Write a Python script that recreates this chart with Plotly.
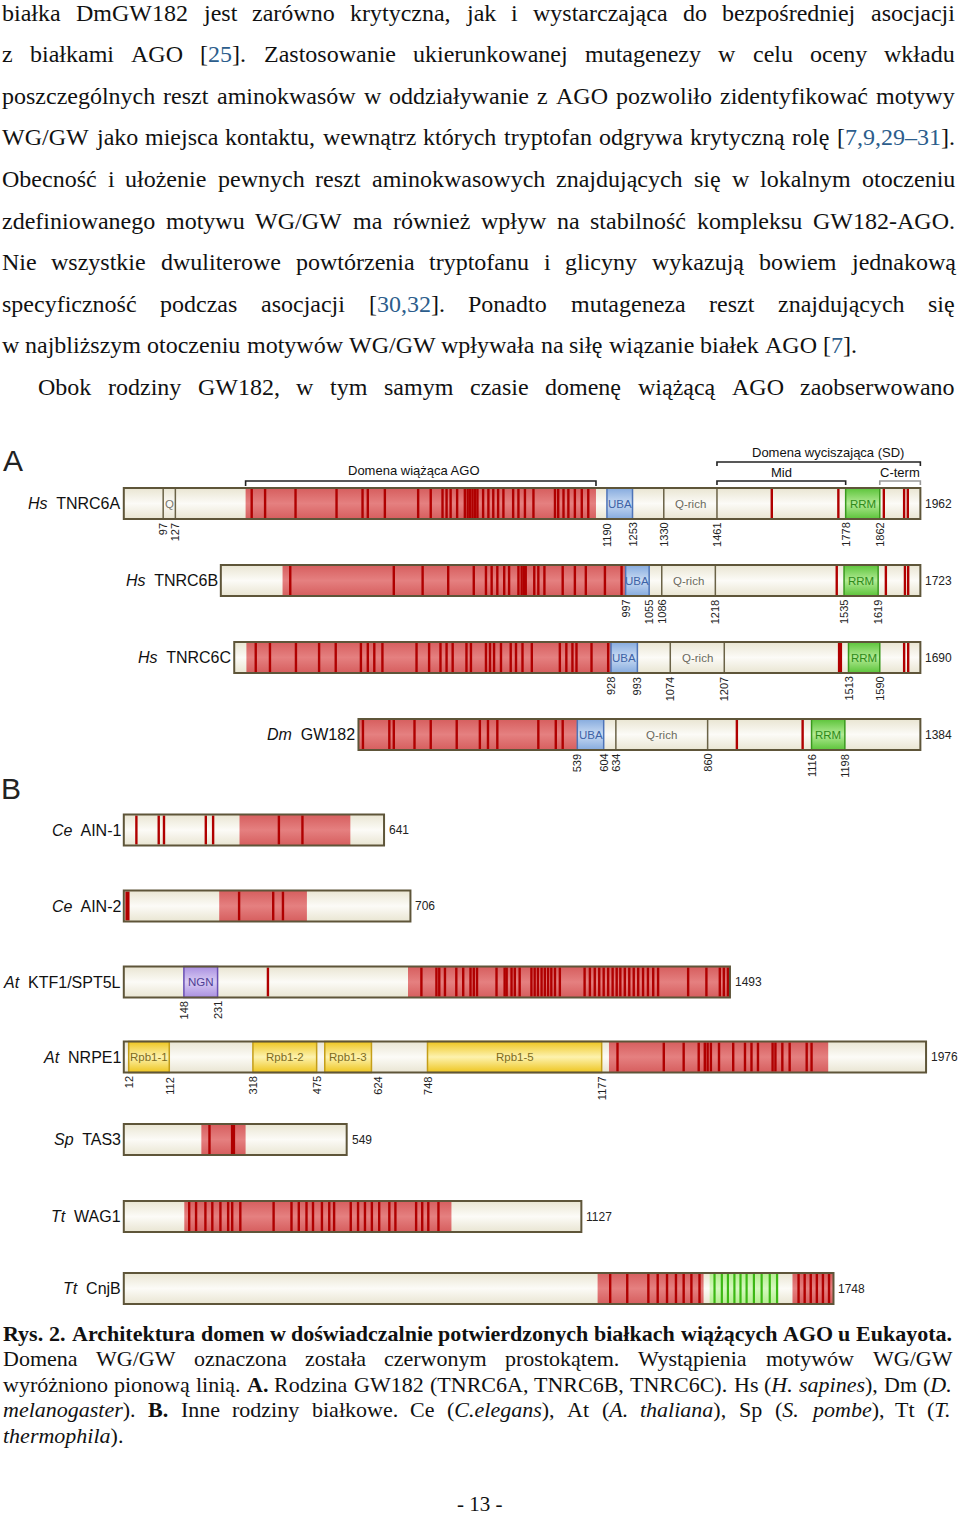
import plotly.graph_objects as go

# ======================= DATA =======================
PROTEINS = ["TNRC6A", "TNRC6B", "TNRC6C", "GW182", "AIN-1", "AIN-2",
            "KTF1/SPT5L", "NRPE1", "TAS3", "WAG1", "CnjB"]
SPECIES = ["Hs", "Hs", "Hs", "Dm", "Ce", "Ce", "At", "At", "Sp", "Tt", "Tt"]
LENGTHS = [1962, 1723, 1690, 1384, 641, 706, 1493, 1976, 549, 1127, 1748]
FAMILY = ["A", "A", "A", "A", "B", "B", "B", "B", "B", "B", "B"]

# WG/GW (AGO-binding) regions, aa
WG_TNRC6A = [(300, 1163)]
WG_TNRC6B = [(152, 997)]
WG_TNRC6C = [(30, 928)]
WG_GW182 = [(0, 539)]
WG_AIN1 = [(285, 558)]
WG_AIN2 = [(235, 451)]
WG_KTF1 = [(700, 1493)]
WG_NRPE1 = [(1195, 1735)]
WG_TAS3 = [(191, 300)]
WG_WAG1 = [(149, 807)]
WG_CNJB = [(1167, 1428), (1647, 1748)]
GREEN_CNJB = [(1443, 1612)]

# WG/GW motif occurrences, aa
M_TNRC6A = [315, 348, 423, 524, 588, 601, 643, 725, 756, 785, 795, 805, 821, 840, 847, 853,
            859, 865, 871, 885, 898, 910, 922, 935, 959, 972, 988, 1009, 1062, 1070, 1083,
            1095, 1111, 1128, 1144, 1596, 1760, 1872, 1922, 1931]
M_TNRC6B = [171, 426, 497, 560, 623, 653, 667, 681, 698, 710, 733, 741, 747, 751, 772, 782,
            797, 842, 872, 899, 946, 987, 1517, 1638, 1685, 1693]
M_TNRC6C = [53, 88, 152, 209, 250, 312, 329, 345, 365, 449, 480, 508, 523, 538, 572, 583,
            620, 630, 640, 657, 681, 694, 710, 733, 802, 818, 833, 843, 880, 921, 1650, 1660]
M_GW182 = [11, 76, 87, 138, 178, 242, 299, 319, 342, 443, 486, 503, 932, 1094]
M_AIN1 = [31, 86, 99, 202, 220, 382, 440]
M_AIN2 = [284, 368, 392]
M_KTF1 = [355, 733, 770, 777, 791, 819, 836, 854, 862, 870, 918, 938, 943, 955, 963, 975,
          1004, 1012, 1020, 1029, 1037, 1045, 1053, 1062, 1074, 1135, 1148, 1160, 1171,
          1182, 1193, 1204, 1214, 1223, 1234, 1245, 1256, 1267, 1279, 1291, 1304, 1316,
          1390, 1435, 1468, 1478, 1488]
M_NRPE1 = [1216, 1330, 1379, 1416, 1431, 1438, 1446, 1466, 1501, 1530, 1546, 1562, 1598,
           1605, 1622, 1640, 1682, 1694]
M_TAS3 = [211]
M_WAG1 = [161, 178, 201, 218, 238, 257, 267, 287, 369, 413, 431, 450, 466, 488, 506, 518,
          559, 577, 594, 611, 629, 654, 669, 720, 735, 750, 775]
M_CNJB = [1198, 1240, 1292, 1315, 1338, 1360, 1379, 1398, 1418, 1662, 1677, 1692, 1707,
          1722, 1737]
M_CNJB_GREEN = [1455, 1473, 1488, 1504, 1519, 1534, 1552, 1571, 1591, 1609]
# wide motif marks
MW_TNRC6C = [1492]
MW_AIN2 = [9]
MW_TAS3 = [269]

# Other domains (name, start, end)
D_TNRC6A = [("Q", 97, 127), ("UBA", 1190, 1253), ("Q-rich", 1330, 1461), ("RRM", 1778, 1862)]
D_TNRC6B = [("UBA", 997, 1055), ("Q-rich", 1086, 1218), ("RRM", 1535, 1619)]
D_TNRC6C = [("UBA", 928, 993), ("Q-rich", 1074, 1207), ("RRM", 1513, 1590)]
D_GW182 = [("UBA", 539, 604), ("Q-rich", 634, 860), ("RRM", 1116, 1198)]
D_KTF1 = [("NGN", 148, 231)]
D_NRPE1 = [("Rpb1-1", 12, 112), ("Rpb1-2", 318, 475), ("Rpb1-3", 495, 610), ("Rpb1-5", 748, 1177)]

# position labels under bars
T_TNRC6A = [97, 127, 1190, 1253, 1330, 1461, 1778, 1862]
T_TNRC6B = [997, 1055, 1086, 1218, 1535, 1619]
T_TNRC6C = [928, 993, 1074, 1207, 1513, 1590]
T_GW182 = [539, 604, 634, 860, 1116, 1198]
T_KTF1 = [148, 231]
T_NRPE1 = [12, 112, 318, 475, 624, 748, 1177]

# region brackets above TNRC6A (label, start, end)
BRACKET_AGO = ("Domena wiążąca AGO", 300, 1163)
BRACKET_SD = ("Domena wyciszająca (SD)", 1461, 1962)
BRACKET_MID = ("Mid", 1461, 1778)
BRACKET_CTERM = ("C-term", 1862, 1962)

WG = [WG_TNRC6A, WG_TNRC6B, WG_TNRC6C, WG_GW182, WG_AIN1, WG_AIN2, WG_KTF1, WG_NRPE1,
      WG_TAS3, WG_WAG1, WG_CNJB]
MOT = [M_TNRC6A, M_TNRC6B, M_TNRC6C, M_GW182, M_AIN1, M_AIN2, M_KTF1, M_NRPE1, M_TAS3,
       M_WAG1, M_CNJB]
MOTW = [[], [], MW_TNRC6C, [], [], MW_AIN2, [], [], MW_TAS3, [], []]
DOM = [D_TNRC6A, D_TNRC6B, D_TNRC6C, D_GW182, [], [], D_KTF1, D_NRPE1, [], [], []]
TICKS = [T_TNRC6A, T_TNRC6B, T_TNRC6C, T_GW182, [], [], T_KTF1, T_NRPE1, [], [], []]

# Page text
BODY_LINES = [
    "białka DmGW182 jest zarówno krytyczna, jak i wystarczająca do bezpośredniej asocjacji",
    "z białkami AGO [{25}]. Zastosowanie ukierunkowanej mutagenezy w celu oceny wkładu",
    "poszczególnych reszt aminokwasów w oddziaływanie z AGO pozwoliło zidentyfikować motywy",
    "WG/GW jako miejsca kontaktu, wewnątrz których tryptofan odgrywa krytyczną rolę [{7,9,29–31}].",
    "Obecność i ułożenie pewnych reszt aminokwasowych znajdujących się w lokalnym otoczeniu",
    "zdefiniowanego motywu WG/GW ma również wpływ na stabilność kompleksu GW182-AGO.",
    "Nie wszystkie dwuliterowe powtórzenia tryptofanu i glicyny wykazują bowiem jednakową",
    "specyficzność podczas asocjacji [{30,32}]. Ponadto mutageneza reszt znajdujących się",
    "w najbliższym otoczeniu motywów WG/GW wpływała na siłę wiązanie białek AGO [{7}].",
    "Obok rodziny GW182, w tym samym czasie domenę wiążącą AGO zaobserwowano",
]
BODY_JUSTIFY = [True, True, True, True, True, True, True, True, False, True]
CAPTION_LINES = [
    "**Rys. 2. Architektura domen w doświadczalnie potwierdzonych białkach wiążących AGO u Eukayota.**",
    "Domena WG/GW oznaczona została czerwonym prostokątem. Wystąpienia motywów WG/GW",
    "wyróżniono pionową linią. **A.** Rodzina GW182 (TNRC6A, TNRC6B, TNRC6C). Hs (*H. sapines*), Dm (*D.*",
    "*melanogaster*). **B.** Inne rodziny białkowe. Ce (*C.elegans*), At (*A. thaliana*), Sp (*S. pombe*), Tt (*T.*",
    "*thermophila*).",
]
CAPTION_JUSTIFY = [True, True, True, True, False]
PAGE_NUMBER = "- 13 -"

# ======================= LAYOUT / STYLE =======================
W, H = 960, 1517
PX0, SCALE = 123.8, 0.406          # pixel of aa 0 and px per aa
XR = [(0 - PX0) / SCALE, (W - PX0) / SCALE]
ROW_Y = [503.5, 580.5, 657.5, 734.5, 830, 906, 982, 1057, 1139.5, 1216.5, 1288.5]
BAR_H = 31
SANS = "Liberation Sans, Arial, sans-serif"
SERIF = "Liberation Serif, Times New Roman, serif"

GRAD = {
    "cream": ('#e9e5d2', '#fcfbf7'),
    "red": ('#d65e5e', '#e58080'),
    "UBA": ('#86abde', '#c9dbf3'),
    "RRM": ('#5cc43a', '#b2ea94'),
    "NGN": ('#a98fe0', '#d9ccf4'),
    "Rpb1": ('#eec51e', '#fdf2ae'),
    "green": ('#b4ee8e', '#d6f8c0'),
}
BORDER = {"UBA": '#4e74b8', "RRM": '#3a9a1e', "NGN": '#6a4fb5', "Rpb1": '#c49e18',
          "Q": '#6b6347', "Q-rich": '#6b6347'}
TXT = {"UBA": '#3d62a6', "RRM": '#2e8a1a', "NGN": '#4e3e96', "Rpb1": '#7d6a1c',
       "Q": '#7a7a70', "Q-rich": '#6a6a5e'}
MOTIF_C = '#b00000'
BAR_BORDER = '#5e5539'


def dkey(name):
    return "Rpb1" if name.startswith("Rpb1") else name


fig = go.Figure()
shapes = []
ann = []


def grad_rects(rects, yc, key):
    if not rects:
        return
    e, m = GRAD[key]
    yt, yb = yc - BAR_H / 2, yc + BAR_H / 2
    for a, b in rects:
        fig.add_trace(go.Scatter(
            x=[a, b, b, a, a], y=[yt, yt, yb, yb, yt], mode='lines', line=dict(width=0),
            fill='toself',
            fillgradient=dict(type='vertical',
                              colorscale=[[0, e], [0.5, m], [1, e]]),
            hoverinfo='skip', showlegend=False))


def motif_lines(xlist, yc, color, width):
    if not xlist:
        return
    yt, yb = yc - BAR_H / 2 + 1, yc + BAR_H / 2 - 1
    xs, ys = [], []
    for x in xlist:
        xs += [x, x, None]
        ys += [yt, yb, None]
    fig.add_trace(go.Scatter(x=xs, y=ys, mode='lines',
                             line=dict(color=color, width=width),
                             hoverinfo='skip', showlegend=False))


for i, name in enumerate(PROTEINS):
    L = LENGTHS[i]
    off = (LENGTHS[0] - L) if FAMILY[i] == "A" else 0
    yc = ROW_Y[i]
    yt, yb = yc - BAR_H / 2, yc + BAR_H / 2
    grad_rects([(off, off + L)], yc, "cream")
    grad_rects([(off + a, off + b) for a, b in WG[i]], yc, "red")
    for dname, a, b in DOM[i]:
        k = dkey(dname)
        if k in GRAD:
            grad_rects([(off + a, off + b)], yc, k)
        shapes.append(dict(type='rect', xref='x', yref='y', x0=off + a, x1=off + b,
                           y0=yt, y1=yb, line=dict(color=BORDER[k], width=1.5),
                           fillcolor='rgba(0,0,0,0)', layer='above'))
        ann.append(dict(x=off + (a + b) / 2, y=yc, xref='x', yref='y', text=dname,
                        showarrow=False, font=dict(family=SANS, size=11.5, color=TXT[k]),
                        xanchor='center', yanchor='middle'))
    if name == "CnjB":
        grad_rects([(off + a, off + b) for a, b in GREEN_CNJB], yc, "green")
        motif_lines([off + x for x in M_CNJB_GREEN], yc, '#3cb814', 2.2)
    motif_lines([off + x for x in MOT[i]], yc, MOTIF_C, 2.4)
    motif_lines([off + x for x in MOTW[i]], yc, MOTIF_C, 4.2)
    shapes.append(dict(type='rect', xref='x', yref='y', x0=off, x1=off + L, y0=yt, y1=yb,
                       line=dict(color=BAR_BORDER, width=2), fillcolor='rgba(0,0,0,0)',
                       layer='above'))
    ann.append(dict(x=off, y=yc, xref='x', yref='y', xanchor='right', yanchor='middle',
                    xshift=-1, text=f"<i>{SPECIES[i]}</i>\u00a0 {name}", showarrow=False,
                    font=dict(family=SANS, size=16, color='#111')))
    ann.append(dict(x=off + L, y=yc, xref='x', yref='y', xanchor='left', yanchor='middle',
                    xshift=3, text=str(L), showarrow=False,
                    font=dict(family=SANS, size=12, color='#222')))
    for t in TICKS[i]:
        ann.append(dict(x=off + t, y=yb + 2, xref='x', yref='y', xanchor='center',
                        yanchor='top', textangle=-90, text=str(t), showarrow=False,
                        font=dict(family=SANS, size=11, color='#222')))

for (lab, a, b), ybr, tick, col, ty, dx in [
        (BRACKET_AGO, 481, 5, '#222', 470, -7),
        (BRACKET_SD, 462, 4, '#222', 452, 9),
        (BRACKET_MID, 481, 4, '#222', 472, 0),
        (BRACKET_CTERM, 481, 4, '#999', 472, 0)]:
    shapes.append(dict(type='path', xref='x', yref='y',
                       path=f"M {a},{ybr + tick} L {a},{ybr} L {b},{ybr} L {b},{ybr + tick}",
                       line=dict(color=col, width=1.6), layer='above'))
    ann.append(dict(x=(a + b) / 2, y=ty, xref='x', yref='y', xanchor='center',
                    yanchor='middle', xshift=dx, text=lab, showarrow=False,
                    font=dict(family=SANS, size=13, color='#111')))

ann.append(dict(x=12.5 / W, y=460, xref='paper', yref='y', text="A", showarrow=False,
                xanchor='center', yanchor='middle', font=dict(family=SANS, size=30, color='#222')))
ann.append(dict(x=10.5 / W, y=788, xref='paper', yref='y', text="B", showarrow=False,
                xanchor='center', yanchor='middle', font=dict(family=SANS, size=30, color='#222')))

# ---------------- page text (justified word placement) ----------------
_low = "abcdefghijklmnopqrstuvwxyz"
_up = "ABCDEFGHIJKLMNOPQRSTUVWXYZ"
R_LOW = [444, 500, 444, 500, 444, 333, 500, 500, 278, 278, 500, 278, 778, 500, 500, 500, 500, 333, 389, 278, 500, 500, 722, 500, 500, 444]
R_UP = [722, 667, 667, 722, 611, 556, 722, 722, 333, 389, 722, 611, 889, 722, 722, 556, 722, 667, 556, 611, 722, 722, 944, 722, 722, 611]
B_LOW = [500, 556, 444, 556, 444, 333, 500, 556, 278, 333, 556, 278, 833, 556, 500, 556, 556, 444, 389, 333, 556, 500, 722, 500, 500, 444]
B_UP = [722, 667, 722, 722, 667, 611, 778, 778, 389, 500, 778, 667, 944, 722, 778, 611, 778, 722, 556, 667, 722, 722, 1000, 722, 722, 667]
I_LOW = [500, 500, 444, 500, 444, 278, 500, 500, 278, 278, 444, 278, 722, 500, 500, 500, 500, 389, 389, 278, 500, 444, 667, 444, 444, 389]
I_UP = [611, 611, 667, 722, 611, 611, 722, 722, 333, 444, 667, 556, 833, 667, 722, 611, 722, 611, 500, 556, 722, 611, 833, 611, 556, 556]
PUNCT = {' ': 250, ',': 250, '.': 250, '(': 333, ')': 333, '[': 333, ']': 333, '-': 333,
         '/': 278, ':': 278, ';': 278, '–': 500}
PL = {'ą': 'a', 'ć': 'c', 'ę': 'e', 'ł': 'l', 'ń': 'n', 'ó': 'o', 'ś': 's', 'ź': 'z', 'ż': 'z',
      'Ą': 'A', 'Ć': 'C', 'Ę': 'E', 'Ł': 'L', 'Ń': 'N', 'Ó': 'O', 'Ś': 'S', 'Ź': 'Z', 'Ż': 'Z'}
TAB = {(False, False): (R_LOW, R_UP), (True, False): (B_LOW, B_UP),
       (False, True): (I_LOW, I_UP), (True, True): (B_LOW, B_UP)}


def cw(c, b, it):
    c = PL.get(c, c)
    lo, up = TAB[(b, it)]
    if c in _low:
        return lo[_low.index(c)]
    if c in _up:
        return up[_up.index(c)]
    if c.isdigit():
        return 500
    return PUNCT.get(c, 500)


def parse(line):
    chars = []
    b = it = bl = False
    k = 0
    while k < len(line):
        if line.startswith('**', k):
            b = not b
            k += 2
            continue
        c = line[k]
        if c == '*':
            it = not it
        elif c == '{':
            bl = True
        elif c == '}':
            bl = False
        else:
            chars.append((c, b, it, bl))
        k += 1
    words, cur = [], []
    for t in chars:
        if t[0] == ' ':
            if cur:
                words.append(cur)
            cur = []
        else:
            cur.append(t)
    if cur:
        words.append(cur)
    return words


def word_html(w):
    out, k = "", 0
    while k < len(w):
        st = w[k][1:]
        s = ""
        while k < len(w) and w[k][1:] == st:
            s += w[k][0]
            k += 1
        if st[2]:
            s = f"<span style='color:#2c5d8c'>{s}</span>"
        if st[1]:
            s = f"<i>{s}</i>"
        if st[0]:
            s = f"<b>{s}</b>"
        out += s
    return out


def place_line(line, xl, xr, yc, size, justify):
    words = parse(line)
    widths = [sum(cw(c, b, it) for c, b, it, _ in w) * size / 1000 for w in words]
    if justify and len(words) > 1:
        gap = (xr - xl - sum(widths)) / (len(words) - 1)
    else:
        gap = 0.25 * size
    x = xl
    for w, wd in zip(words, widths):
        ann.append(dict(x=x / W, y=yc, xref='paper', yref='y', xanchor='left',
                        yanchor='middle', text=word_html(w), showarrow=False, borderpad=0,
                        borderwidth=0, font=dict(family=SERIF, size=size, color='#111')))
        x += wd + gap


for k, line in enumerate(BODY_LINES):
    xl = 38 if k == 9 else 2
    place_line(line, xl, 955, 12.5 + 41.6 * k, 24, BODY_JUSTIFY[k])

for k, line in enumerate(CAPTION_LINES):
    place_line(line, 3, 952, 1333 + 25.5 * k, 22, CAPTION_JUSTIFY[k])

ann.append(dict(x=480 / W, y=1516, xref='paper', yref='y', xanchor='center', yanchor='bottom',
                text=PAGE_NUMBER, showarrow=False, borderpad=0, borderwidth=0,
                font=dict(family=SERIF, size=21, color='#111')))

fig.update_layout(
    width=W, height=H, margin=dict(l=0, r=0, t=0, b=0),
    paper_bgcolor='white', plot_bgcolor='white', showlegend=False,
    xaxis=dict(range=XR, visible=False, fixedrange=True),
    yaxis=dict(range=[H, 0], visible=False, fixedrange=True),
    shapes=shapes, annotations=ann,
)
fig.write_html("out.html", config={'displayModeBar': False},
               post_script="document.body.style.margin='0';document.body.style.padding='0';")
